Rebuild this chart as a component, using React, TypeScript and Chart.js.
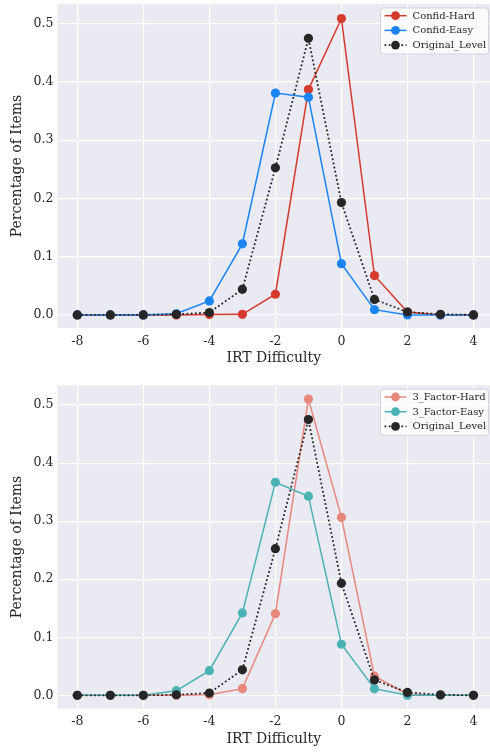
import React, { useEffect, useRef } from "react";
import { Chart, registerables } from "chart.js";
Chart.register(...registerables);

const xValues = [-8, -7, -6, -5, -4, -3, -2, -1, 0, 1, 2, 3, 4];
const xTicks = [-8, -6, -4, -2, 0, 2, 4];
const yTicks = [0, 0.1, 0.2, 0.3, 0.4, 0.5];

const confidHard = [0, 0, 0, 0, 0.0005, 0.001, 0.0355, 0.387, 0.509, 0.0676, 0.005, 0, 0];
const confidEasy = [0, 0, 0, 0.002, 0.024, 0.122, 0.381, 0.374, 0.088, 0.009, 0, 0, 0];
const originalLevel = [0, 0, 0, 0.001, 0.004, 0.044, 0.2526, 0.475, 0.193, 0.0265, 0.005, 0.001, 0];
const factorHard = [0, 0, 0, 0, 0.001, 0.0115, 0.1406, 0.5103, 0.3065, 0.033, 0.002, 0, 0];
const factorEasy = [0, 0, 0, 0.008, 0.0425, 0.142, 0.367, 0.343, 0.088, 0.0115, 0, 0, 0];

const FONT = "'DejaVu Serif', serif";
const TEXT = "#262626";

type Spec = { label: string; values: number[]; color: string; dotted?: boolean; order: number };

const bgPlugin = {
  id: "bgArea",
  beforeDraw(chart: any) {
    const { ctx, chartArea } = chart;
    ctx.save();
    ctx.fillStyle = "#EAEAF2";
    ctx.fillRect(chartArea.left, chartArea.top, chartArea.right - chartArea.left, chartArea.bottom - chartArea.top);
    ctx.restore();
  },
};

const innerLegend = {
  id: "innerLegend",
  afterDatasetsDraw(chart: any) {
    const { ctx, chartArea } = chart;
    const ds = chart.data.datasets;
    const w = 108;
    const h = 46;
    const x0 = chartArea.right - w - 1.5;
    const y0 = chartArea.top + 4;
    ctx.save();
    ctx.beginPath();
    const r = 3;
    ctx.moveTo(x0 + r, y0);
    ctx.lineTo(x0 + w - r, y0);
    ctx.quadraticCurveTo(x0 + w, y0, x0 + w, y0 + r);
    ctx.lineTo(x0 + w, y0 + h - r);
    ctx.quadraticCurveTo(x0 + w, y0 + h, x0 + w - r, y0 + h);
    ctx.lineTo(x0 + r, y0 + h);
    ctx.quadraticCurveTo(x0, y0 + h, x0, y0 + h - r);
    ctx.lineTo(x0, y0 + r);
    ctx.quadraticCurveTo(x0, y0, x0 + r, y0);
    ctx.closePath();
    ctx.fillStyle = "rgba(255,255,255,0.8)";
    ctx.fill();
    ctx.strokeStyle = "rgba(204,204,204,0.8)";
    ctx.lineWidth = 1;
    ctx.stroke();
    ds.forEach((d: any, i: number) => {
      const cy = y0 + 7.7 + i * 14.7;
      ctx.beginPath();
      ctx.strokeStyle = d.borderColor;
      ctx.lineWidth = d.borderWidth;
      ctx.setLineDash(d.borderDash || []);
      ctx.moveTo(x0 + 4, cy);
      ctx.lineTo(x0 + 26, cy);
      ctx.stroke();
      ctx.setLineDash([]);
      ctx.beginPath();
      ctx.fillStyle = d.borderColor;
      ctx.arc(x0 + 15, cy, 4.4, 0, Math.PI * 2);
      ctx.fill();
      ctx.fillStyle = TEXT;
      ctx.font = `10px ${FONT}`;
      ctx.textBaseline = "middle";
      ctx.textAlign = "left";
      ctx.fillText(d.label, x0 + 32, cy + 0.5);
    });
    ctx.restore();
  },
};

const zeroPad = (scale: any) => {
  scale.paddingTop = 0;
  scale.paddingBottom = 0;
  scale.paddingLeft = 0;
  scale.paddingRight = 0;
};

function makeConfig(specs: Spec[], padTop: number, xAxisHeight: number, xTitlePadBottom: number, yMin: number, yMax: number): any {
  return {
    type: "line",
    data: {
      datasets: specs.map((s) => ({
        label: s.label,
        data: xValues.map((x, i) => ({ x, y: s.values[i] })),
        borderColor: s.color,
        backgroundColor: s.color,
        pointBackgroundColor: s.color,
        pointBorderColor: s.color,
        pointRadius: 4.6,
        pointBorderWidth: 0,
        borderWidth: s.dotted ? 1.8 : 1.5,
        borderDash: s.dotted ? [1.8, 2.4] : [],
        tension: 0,
        fill: false,
        clip: false,
        order: s.order,
      })),
    },
    options: {
      responsive: false,
      animation: false,
      devicePixelRatio: 1,
      layout: { autoPadding: false, padding: { top: padTop, left: 0, right: 0, bottom: 0 } },
      plugins: { legend: { display: false }, tooltip: { enabled: false } },
      scales: {
        x: {
          type: "linear",
          min: -8.6,
          max: 4.5,
          afterBuildTicks: (scale: any) => {
            scale.ticks = xTicks.map((v) => ({ value: v }));
          },
          afterFit: (scale: any) => {
            scale.height = xAxisHeight;
            zeroPad(scale);
          },
          grid: { color: "#ffffff", lineWidth: 1.2, drawTicks: false },
          border: { display: false },
          ticks: {
            color: TEXT,
            font: { family: FONT, size: 12.5 },
            padding: 6,
            maxRotation: 0,
            callback: (v: number) => String(v),
          },
          title: {
            display: true,
            text: "IRT Difficulty",
            color: TEXT,
            font: { family: FONT, size: 14 },
            padding: { top: 0, bottom: xTitlePadBottom },
          },
        },
        y: {
          type: "linear",
          min: yMin,
          max: yMax,
          afterBuildTicks: (scale: any) => {
            scale.ticks = yTicks.map((v) => ({ value: v }));
          },
          afterFit: (scale: any) => {
            scale.width = 57.5;
            zeroPad(scale);
          },
          grid: { color: "#ffffff", lineWidth: 1.2, drawTicks: false },
          border: { display: false },
          ticks: {
            color: TEXT,
            font: { family: FONT, size: 12.5 },
            padding: 4,
            callback: (v: number) => v.toFixed(1),
          },
          title: {
            display: true,
            text: "Percentage of Items",
            color: TEXT,
            font: { family: FONT, size: 14 },
            padding: { top: 9, bottom: 0 },
          },
        },
      },
    },
    plugins: [bgPlugin, innerLegend],
  };
}

function LineChart({ config }: { config: any }) {
  const ref = useRef<HTMLCanvasElement | null>(null);
  useEffect(() => {
    if (!ref.current) return;
    const chart = new Chart(ref.current, config);
    return () => chart.destroy();
  }, [config]);
  return <canvas ref={ref} width={490} height={376} style={{ display: "block", width: 490, height: 376 }} />;
}

const topConfig = makeConfig(
  [
    { label: "Confid-Hard", values: confidHard, color: "#d63a2d", order: 3 },
    { label: "Confid-Easy", values: confidEasy, color: "#1a84f5", order: 2 },
    { label: "Original_Level", values: originalLevel, color: "#262626", dotted: true, order: 1 },
  ],
  4,
  48,
  9.6,
  -0.0225,
  0.534
);

const bottomConfig = makeConfig(
  [
    { label: "3_Factor-Hard", values: factorHard, color: "#e8877b", order: 3 },
    { label: "3_Factor-Easy", values: factorEasy, color: "#4cb3b5", order: 2 },
    { label: "Original_Level", values: originalLevel, color: "#262626", dotted: true, order: 1 },
  ],
  9.3,
  43.3,
  4.6,
  -0.023,
  0.534
);

export default function App() {
  return (
    <div style={{ position: "absolute", left: 0, top: 0, width: 490, height: 752, background: "#ffffff" }}>
      <LineChart config={topConfig} />
      <LineChart config={bottomConfig} />
    </div>
  );
}
